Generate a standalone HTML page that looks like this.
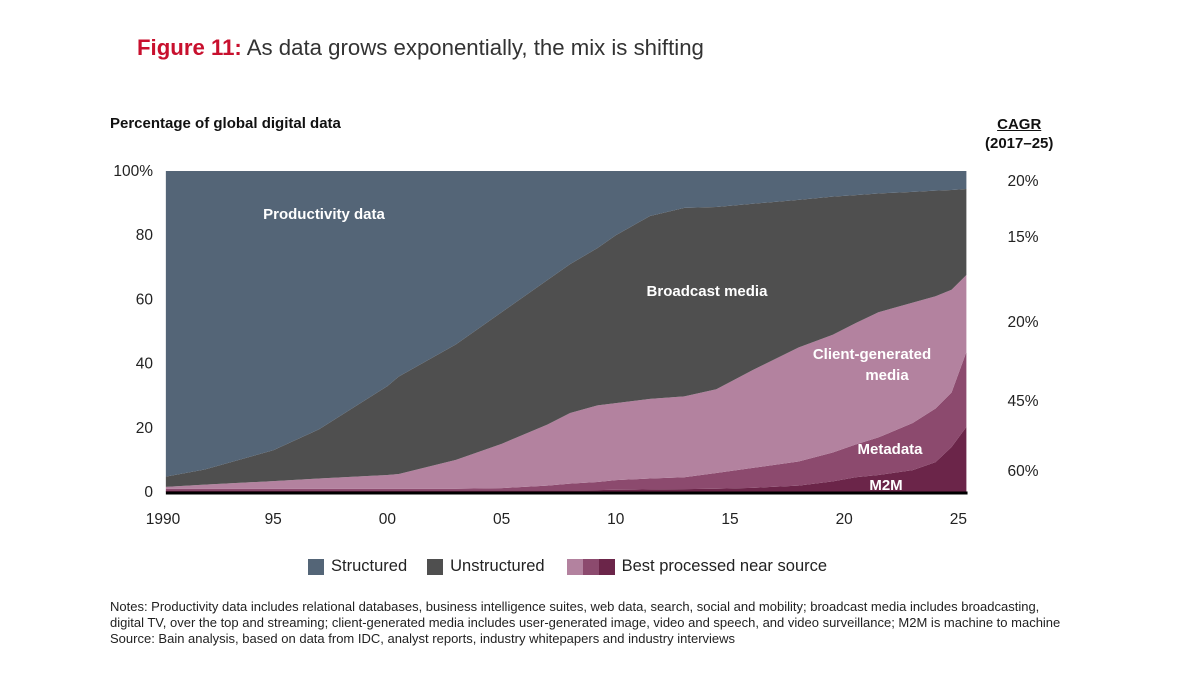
<!DOCTYPE html>
<html><head><meta charset="utf-8"><style>
body{margin:0;width:1200px;height:675px;background:#fff;font-family:"Liberation Sans",sans-serif;overflow:hidden;position:relative}
.t{position:absolute;white-space:nowrap}
</style></head><body>
<div class="t" style="left:137px;top:35px;font-size:22.2px;color:#333"><b style="color:#c8102e">Figure 11:</b> As data grows exponentially, the mix is shifting</div>
<div class="t" style="left:110px;top:115px;font-size:15px;font-weight:bold;color:#111">Percentage of global digital data</div>
<div class="t" style="left:985px;top:115px;font-size:15px;font-weight:bold;color:#111;text-align:center;line-height:19px"><u>CAGR</u><br>(2017–25)</div>
<svg id="chart" width="1200" height="675" style="position:absolute;left:0;top:0"></svg>
<div class="t" style="left:308px;top:557px;font-size:16.5px;color:#222;display:flex;align-items:center">
<span style="width:16px;height:16px;background:#546577;display:inline-block;margin-right:7px"></span><span>Structured</span>
<span style="width:16px;height:16px;background:#4f4f4f;display:inline-block;margin:0 7px 0 20px"></span><span>Unstructured</span>
<span style="display:inline-flex;margin:0 7px 0 22px"><i style="width:16px;height:16px;background:#b3829f;display:inline-block"></i><i style="width:16px;height:16px;background:#8c4a6e;display:inline-block"></i><i style="width:16px;height:16px;background:#6b2549;display:inline-block"></i></span><span>Best processed near source</span>
</div>
<div class="t" style="left:110px;top:599px;font-size:13px;color:#222;line-height:16px">Notes: Productivity data includes relational databases, business intelligence suites, web data, search, social and mobility; broadcast media includes broadcasting,<br>digital TV, over the top and streaming; client-generated media includes user-generated image, video and speech, and video surveillance; M2M is machine to machine<br>Source: Bain analysis, based on data from IDC, analyst reports, industry whitepapers and industry interviews</div>
<script>
const years=[1990.3,1992,1995,1997,2000,2000.5,2003,2005,2007,2008,2009.2,2010,2011.5,2013,2014.4,2016,2018,2019.5,2020.5,2021.5,2023,2024,2024.7,2025.35];
const m2m=[0.5,0.5,0.5,0.5,0.5,0.5,0.5,0.5,0.5,0.5,0.6,0.7,0.8,0.9,1,1.3,2,3.3,4.6,5.3,6.8,9.3,14,20.3];
const metadata=[0.5,0.5,0.5,0.5,0.5,0.5,0.5,0.7,1.5,2.1,2.5,3,3.4,3.7,4.9,6.2,7.5,9,10.2,11.7,14.7,16.7,17,23.3];
const clientMedia=[0.6,1.3,2.4,3.2,4.3,4.6,9,13.8,19,22,23.9,24,24.8,25.2,26.1,30.5,35.5,36.7,37.8,39,37.5,35,32,24];
const unstructured=[3.2,4.7,9.6,15.3,27.7,30.4,36,41,45,46.4,49,52.3,57,58.7,56.8,51.8,46,43,39.9,37,34.5,32.9,31.1,26.8];
const structured=[95.2,93,87,80.5,67,64,54,44,34,29,24,20,14,11.5,11.2,10.2,9,8,7.5,7,6.5,6.1,5.9,5.6];
const yTicks=[0,20,40,60,80,100];
const xTicks=[1990,1995,2000,2005,2010,2015,2020,2025];
const xTickLabels=["1990","95","00","05","10","15","20","25"];
const cagr=["20%","15%","20%","45%","60%"];
const cagrY=[180,236,321,400,470];
const NS="http://www.w3.org/2000/svg";
const svg=document.getElementById('chart');
const X=y=>159+(y-1990)*22.84;
const Y=v=>492-v*3.21;
function el(t,a,txt){const e=document.createElementNS(NS,t);for(const k in a)e.setAttribute(k,a[k]);if(txt!=null)e.textContent=txt;svg.appendChild(e);return e;}
const series=[{n:'m2m',d:m2m,c:'#6b2549'},{n:'metadata',d:metadata,c:'#8c4a6e'},{n:'client-generated-media',d:clientMedia,c:'#b3829f'},{n:'unstructured-broadcast',d:unstructured,c:'#4f4f4f'},{n:'structured-productivity',d:structured,c:'#546577'}];
let base=years.map(()=>0);
series.forEach(s=>{
  const top=base.map((b,i)=>b+s.d[i]);
  let pts=years.map((y,i)=>X(y)+','+Y(top[i]));
  for(let i=years.length-1;i>=0;i--)pts.push(X(years[i])+','+Y(base[i]));
  const p=el('polygon',{points:pts.join(' '),fill:s.c});
  
  
  base=top;
});
const ax=el('line',{x1:X(1990.3),x2:X(2025.4),y1:Y(0)+1,y2:Y(0)+1,stroke:'#000','stroke-width':3});


yTicks.forEach(v=>{
  const t=el('text',{x:153,y:Y(v)+5,'text-anchor':'end','font-size':15.5,fill:'#222','font-family':'Liberation Sans'},v===100?'100%':String(v));
  
  
});
xTicks.forEach((v,i)=>{
  const t=el('text',{x:X(v)+(i===0?4:0),y:524,'text-anchor':'middle','font-size':15.5,fill:'#222','font-family':'Liberation Sans'},xTickLabels[i]);
  
  
});
cagr.forEach((c,i)=>{
  const t=el('text',{x:1023,y:cagrY[i]+6,'text-anchor':'middle','font-size':15.5,fill:'#222','font-family':'Liberation Sans'},c);
  
  
});
const labels=[["Productivity data",324,219],["Broadcast media",707,296],["Client-generated",872,359],["media",887,380],["Metadata",890,454],["M2M",886,490]];
labels.forEach(l=>{
  const t=el('text',{x:l[1],y:l[2],'text-anchor':'middle','font-size':15,'font-weight':'bold',fill:'#fff','font-family':'Liberation Sans'},l[0]);
  
  
});
</script>
</body></html>
